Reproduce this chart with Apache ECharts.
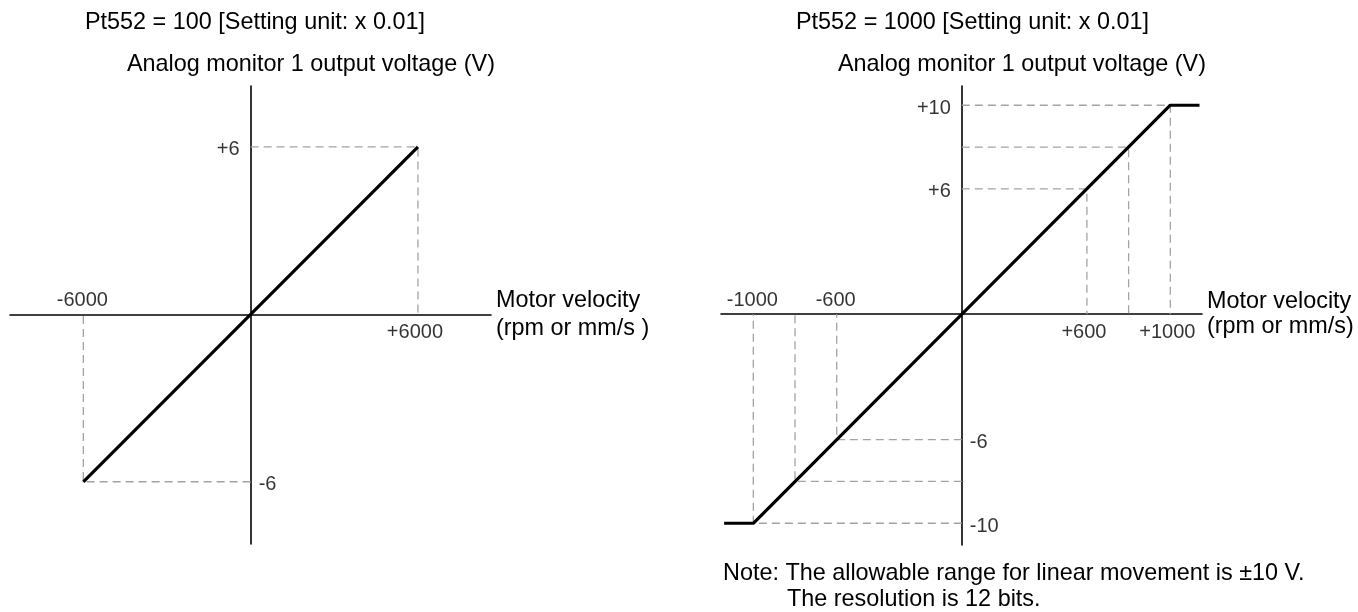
<!DOCTYPE html>
<html><head><meta charset="utf-8">
<script src="https://cdn.jsdelivr.net/npm/echarts@6/dist/echarts.min.js"></script>
<style>html,body{margin:0;padding:0;background:#fff}#c{width:1358px;height:612px}</style>
</head><body><div id="c"></div>
<script>
// ---- Left chart: Pt552 = 100 ----
const leftTitle = 'Pt552 = 100 [Setting unit: x 0.01]';
const leftLineVelocity = [-6000, 6000];
const leftLineVoltage = [-6, 6];
const leftGuideVelocity = [-6000, 6000];
const leftGuideVoltage = [-6, 6];
const leftXTickValues = [-6000, 6000];
const leftXTickLabels = ['-6000', '+6000'];
const leftYTickValues = [6, -6];
const leftYTickLabels = ['+6', '-6'];
const leftXName = 'Motor velocity\n(rpm or mm/s )';

// ---- Right chart: Pt552 = 1000 ----
const rightTitle = 'Pt552 = 1000 [Setting unit: x 0.01]';
const rightLineVelocity = [-1140, -1000, 1000, 1140];
const rightLineVoltage = [-10, -10, 10, 10];
const rightGuideVelocity = [-1000, -800, -600, 600, 800, 1000];
const rightGuideVoltage = [-10, -8, -6, 6, 8, 10];
const rightXTickValues = [-1000, -600, 600, 1000];
const rightXTickLabels = ['-1000', '-600', '+600', '+1000'];
const rightYTickValues = [10, 6, -6, -10];
const rightYTickLabels = ['+10', '+6', '-6', '-10'];
const rightXName = 'Motor velocity\n(rpm or mm/s)';

const yName = 'Analog monitor 1 output voltage (V)';
const noteLines = ['Note: The allowable range for linear movement is \u00b110 V.', 'The resolution is 12 bits.'];

const FONT = '"Liberation Sans", Arial, Helvetica, sans-serif';
const BIG = 23.4, SMALL = 20;
const GUIDE = { color: '#a3a3a3', width: 1.3, type: [8, 5] };

function buildSeries(idx, lineX, lineY, gX, gY, xtV, xtL, ytV, ytL) {
  const s = [];
  gX.forEach((x, i) => {
    const v = gY[i];
    s.push({
      type: 'line', xAxisIndex: idx, yAxisIndex: idx, symbol: 'none', silent: true, z: 2,
      lineStyle: GUIDE, data: [[0, v], [x, v], [x, 0]]
    });
  });
  s.push({
    type: 'line', xAxisIndex: idx, yAxisIndex: idx, symbol: 'none', z: 5,
    lineStyle: { color: '#000', width: 3.2 }, data: lineX.map((x, i) => [x, lineY[i]])
  });
  const lblStyle = { show: true, position: 'inside', color: '#000', fontSize: SMALL, fontFamily: FONT };
  const lbl = [];
  xtV.forEach((x, i) => lbl.push({
    value: [x, 0],
    label: Object.assign({}, lblStyle, { formatter: xtL[i], offset: x < 0 ? [-1, -14] : [-3, 18] })
  }));
  ytV.forEach((y, i) => lbl.push({
    value: [0, y],
    label: Object.assign({}, lblStyle, { formatter: ytL[i], align: y > 0 ? 'right' : 'left', offset: y > 0 ? [-11, 3] : [8, 3] })
  }));
  s.push({
    type: 'scatter', xAxisIndex: idx, yAxisIndex: idx, symbolSize: 1, silent: true, z: 6,
    itemStyle: { color: 'rgba(0,0,0,0)' },
    label: lblStyle,
    data: lbl
  });
  return s;
}

function axisX(idx, min, max, name, lh) {
  return {
    type: 'value', gridIndex: idx, min, max,
    axisLine: { show: true, onZero: true, lineStyle: { color: '#000', width: 1.6 } },
    axisTick: { show: false }, axisLabel: { show: false }, splitLine: { show: false },
    name, nameLocation: 'end', nameGap: 5,
    nameTextStyle: { color: '#000', fontSize: BIG, fontFamily: FONT, lineHeight: lh, align: 'left', verticalAlign: 'middle', padding: [3, 0, 0, 0] }
  };
}
function axisY(idx, min, max) {
  return {
    type: 'value', gridIndex: idx, min, max,
    axisLine: { show: true, onZero: true, lineStyle: { color: '#000', width: 1.6 } },
    axisTick: { show: false }, axisLabel: { show: false }, splitLine: { show: false }
  };
}

function txt(x, y, text) {
  return { type: 'text', x, y, silent: true,
    style: { text, fontSize: BIG, fontFamily: FONT, fill: '#000', align: 'left', verticalAlign: 'middle' } };
}

const chart = echarts.init(document.getElementById('c'), null, { renderer: 'canvas' });
chart.setOption({
  animation: false,
  backgroundColor: '#fff',
  grid: [
    { left: 10, top: 86, width: 481, height: 458 },
    { left: 721, top: 86, width: 481, height: 459 }
  ],
  xAxis: [axisX(0, -8630, 8620, leftXName, 28), axisX(1, -1155, 1152, rightXName, 25)],
  yAxis: [axisY(0, -8.23, 8.18), axisY(1, -11.04, 10.92)],
  graphic: [
    txt(85, 23, leftTitle),
    txt(127, 65, yName),
    txt(796, 23, rightTitle),
    txt(838, 65, yName),
    txt(723, 574, noteLines[0]),
    txt(787, 600, noteLines[1])
  ],
  series: [
    ...buildSeries(0, leftLineVelocity, leftLineVoltage, leftGuideVelocity, leftGuideVoltage, leftXTickValues, leftXTickLabels, leftYTickValues, leftYTickLabels),
    ...buildSeries(1, rightLineVelocity, rightLineVoltage, rightGuideVelocity, rightGuideVoltage, rightXTickValues, rightXTickLabels, rightYTickValues, rightYTickLabels)
  ]
});
</script></body></html>
